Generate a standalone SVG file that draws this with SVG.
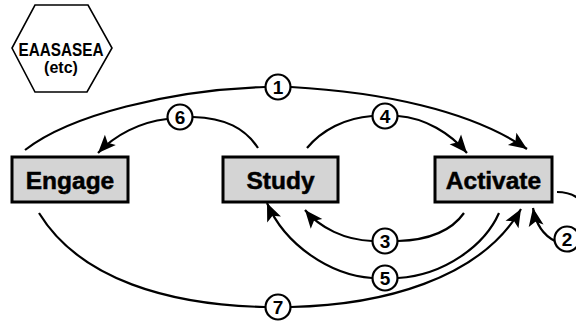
<svg xmlns="http://www.w3.org/2000/svg" width="576" height="323" viewBox="0 0 576 323">
<style>
.box{fill:#d4d4d4;stroke:#000;stroke-width:3}
.lbl{font-family:"Liberation Sans",Arial,sans-serif;font-weight:bold;font-size:24.5px;text-anchor:middle;fill:#000;stroke:#000;stroke-width:0.5}
.num{fill:#fff;stroke:#000;stroke-width:2.2}
.numt{font-family:"Liberation Sans",Arial,sans-serif;font-weight:bold;font-size:19px;text-anchor:middle;fill:#000}
.c{fill:none;stroke:#000;stroke-width:2.2}
.a{marker-end:url(#ah)}
</style>
<defs>
<marker id="ah" markerUnits="userSpaceOnUse" viewBox="-19 -9 20 18" refX="0" refY="0" markerWidth="20" markerHeight="18" orient="auto">
<path d="M0,0 L-18,-7.5 L-14,0 L-18,7.5 Z" fill="#000"/>
</marker>
</defs>
<rect width="576" height="323" fill="#fff"/>
<g id="hexagon">
<polygon points="35,5 88,5 112,48 87,92 35,92 12,48" fill="#fff" stroke="#000" stroke-width="1.6"/>
<text x="61" y="55.5" font-family="Liberation Sans,Arial,sans-serif" font-weight="bold" font-size="19" text-anchor="middle" textLength="85" lengthAdjust="spacingAndGlyphs">EAASASEA</text>
<text x="61" y="73" font-family="Liberation Sans,Arial,sans-serif" font-weight="bold" font-size="16" text-anchor="middle">(etc)</text>
</g>
<g id="connectors">
<path class="c" d="M25,150 C70,115 170,90 265,87"/>
<path class="c a" d="M291,87 C380,92 470,110 527,149"/>
<path class="c" d="M258,148 C245,128 225,118 193,117"/>
<path class="c a" d="M167,119 C140,122 115,135 98,153"/>
<path class="c" d="M307,148 C322,130 345,118 372,116"/>
<path class="c a" d="M398,116 C425,118 450,133 467,153"/>
<path class="c" d="M464,213 C452,230 430,240 398,241"/>
<path class="c a" d="M372,241 C345,240 320,228 305,210"/>
<path class="c" d="M499,213 C485,245 445,275 398,278"/>
<path class="c a" d="M372,278 C330,275 285,245 267,203"/>
<path class="c" d="M39,213 C80,280 170,305 265,307"/>
<path class="c a" d="M291,307 C380,305 480,280 521,209"/>
<path class="c" d="M557,192 C570,192 580,198 586,206"/>
<path class="c a" d="M555,241 C545,236 536,225 533,208"/>
</g>
<g id="engage">
<rect class="box" x="12" y="157" width="116" height="45"/>
<text class="lbl" x="70" y="189">Engage</text>
</g>
<g id="study">
<rect class="box" x="223" y="157" width="115" height="45"/>
<text class="lbl" x="280.5" y="189">Study</text>
</g>
<g id="activate">
<rect class="box" x="435" y="157" width="117" height="45"/>
<text class="lbl" x="493.5" y="189">Activate</text>
</g>
<g id="label1"><circle class="num" cx="278" cy="87" r="12.5"/><text class="numt" x="278" y="93.8">1</text></g>
<g id="label2"><circle class="num" cx="567" cy="239" r="12.5"/><text class="numt" x="567" y="245.8">2</text></g>
<g id="label3"><circle class="num" cx="385" cy="241" r="12.5"/><text class="numt" x="385" y="247.8">3</text></g>
<g id="label4"><circle class="num" cx="385" cy="116" r="12.5"/><text class="numt" x="385" y="122.8">4</text></g>
<g id="label5"><circle class="num" cx="385" cy="278" r="12.5"/><text class="numt" x="385" y="284.8">5</text></g>
<g id="label6"><circle class="num" cx="180" cy="117" r="12.5"/><text class="numt" x="180" y="123.8">6</text></g>
<g id="label7"><circle class="num" cx="278" cy="307" r="12.5"/><text class="numt" x="278" y="313.8">7</text></g>
</svg>
